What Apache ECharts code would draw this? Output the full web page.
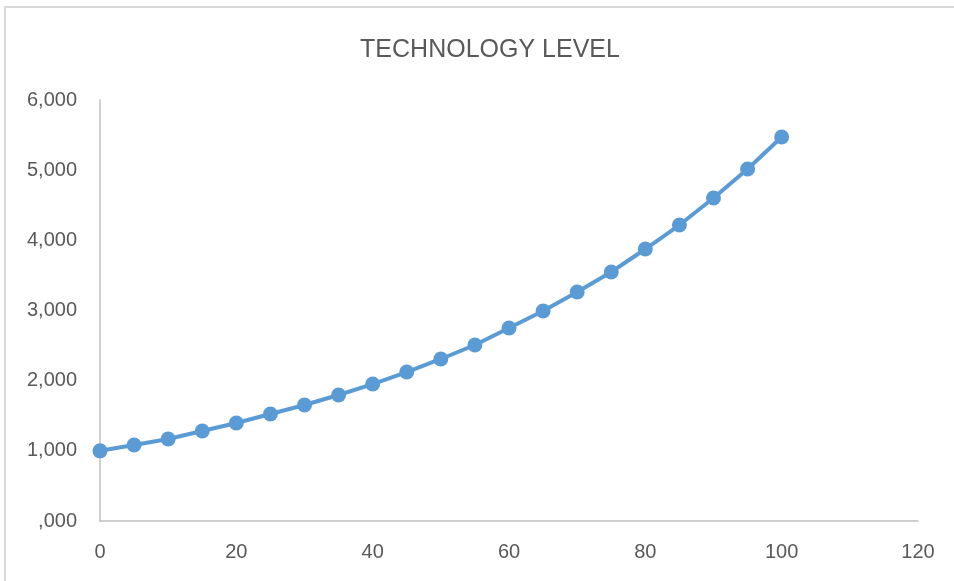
<!DOCTYPE html>
<html>
<head>
<meta charset="utf-8">
<title>Technology Level</title>
<script src="https://cdn.jsdelivr.net/npm/echarts@6/dist/echarts.min.js"></script>
<style>
  html, body { margin: 0; padding: 0; background: #ffffff; }
  #chart { width: 954px; height: 581px; }
</style>
</head>
<body>
<div id="chart"></div>
<script>
// Time steps (x) and the technology level reached at each step (y)
const years = [0, 5, 10, 15, 20, 25, 30, 35, 40, 45, 50, 55, 60, 65, 70, 75, 80, 85, 90, 95, 100];
const techLevel = [1000, 1083, 1169, 1283, 1397, 1525, 1653, 1796, 1952, 2123, 2309, 2508, 2750, 2993, 3263, 3549, 3876, 4218, 4603, 5016, 5472];

// Tick labels shown on the value axis (0 is printed as ",000")
const yTickLabels = [',000', '1,000', '2,000', '3,000', '4,000', '5,000', '6,000'];
const xTickLabels = ['0', '20', '40', '60', '80', '100', '120'];

const textColor = '#595959';
const axisColor = '#bfbfbf';
const seriesColor = '#5b9bd5';
const fontFamily = '"Liberation Sans", Arial, sans-serif';

const chart = echarts.init(document.getElementById('chart'), null, { renderer: 'canvas' });

chart.setOption({
  backgroundColor: '#ffffff',
  animation: false,
  title: {
    text: 'TECHNOLOGY LEVEL',
    left: 485,
    top: 33,
    textAlign: 'center',
    textStyle: {
      color: textColor,
      fontFamily: fontFamily,
      fontSize: 25,
      fontWeight: 'normal'
    }
  },
  grid: {
    left: 100,
    right: 36,
    top: 100,
    bottom: 60,
    containLabel: false
  },
  xAxis: {
    type: 'value',
    min: 0,
    max: 120,
    interval: 20,
    axisLine: { show: true, lineStyle: { color: axisColor, width: 1.5 } },
    axisTick: { show: false },
    splitLine: { show: false },
    axisLabel: {
      color: textColor,
      fontFamily: fontFamily,
      fontSize: 20,
      margin: 21,
      formatter: function (v) { return xTickLabels[Math.round(v / 20)]; }
    }
  },
  yAxis: {
    type: 'value',
    min: 0,
    max: 6000,
    interval: 1000,
    axisLine: { show: true, lineStyle: { color: axisColor, width: 1.5 } },
    axisTick: { show: false },
    splitLine: { show: false },
    axisLabel: {
      color: textColor,
      fontFamily: fontFamily,
      fontSize: 20,
      margin: 23,
      formatter: function (v) { return yTickLabels[Math.round(v / 1000)]; }
    }
  },
  graphic: [
    {
      type: 'polyline',
      silent: true,
      shape: { points: [[5, 581], [5, 7], [954, 7]] },
      style: { stroke: '#d9d9d9', lineWidth: 2, fill: null }
    }
  ],
  series: [
    {
      type: 'line',
      data: years.map(function (x, i) { return [x, techLevel[i]]; }),
      symbol: 'circle',
      symbolSize: 15,
      lineStyle: { color: seriesColor, width: 4 },
      itemStyle: { color: seriesColor },
      clip: false
    }
  ]
});
</script>
</body>
</html>
